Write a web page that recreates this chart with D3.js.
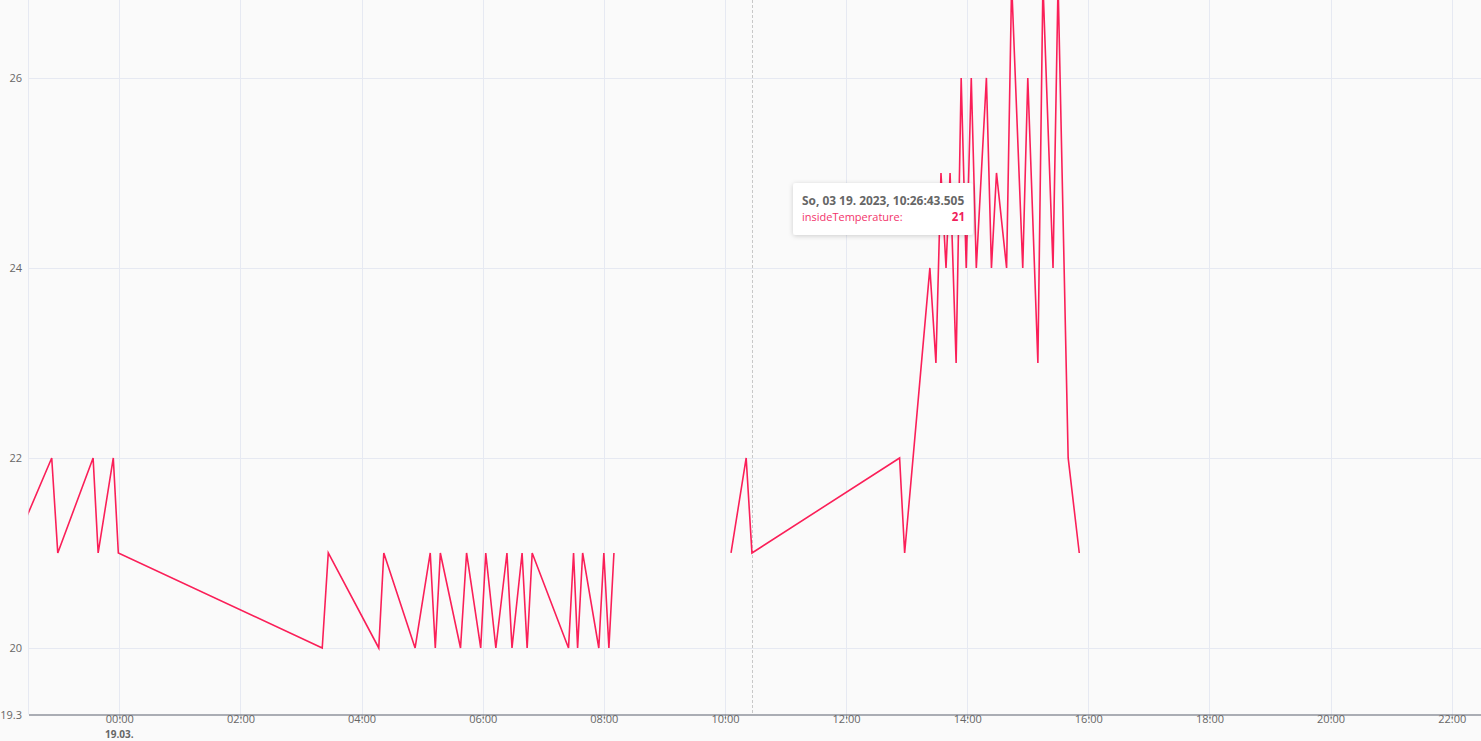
<!DOCTYPE html>
<html><head><meta charset="utf-8">
<script src="https://cdn.jsdelivr.net/npm/d3@7"></script>
<style>
html,body{margin:0;padding:0;background:#fafafa;}
svg{display:block;font-family:"Open Sans","Noto Sans",sans-serif;}
</style></head>
<body>
<svg id="chart" width="1481" height="741"></svg>
<script>
// ---- data ----
const seriesName = "insideTemperature";
const times = [
 "2023-03-18T22:13","2023-03-18T22:53","2023-03-18T22:59","2023-03-18T23:34","2023-03-18T23:39","2023-03-18T23:54","2023-03-18T23:59",
 "2023-03-19T03:21","2023-03-19T03:27","2023-03-19T04:17","2023-03-19T04:22","2023-03-19T04:53","2023-03-19T05:08","2023-03-19T05:13",
 "2023-03-19T05:18","2023-03-19T05:38","2023-03-19T05:44","2023-03-19T05:58","2023-03-19T06:03","2023-03-19T06:13","2023-03-19T06:24",
 "2023-03-19T06:29","2023-03-19T06:39","2023-03-19T06:44","2023-03-19T06:49","2023-03-19T07:25","2023-03-19T07:30","2023-03-19T07:34",
 "2023-03-19T07:39","2023-03-19T07:55","2023-03-19T08:00","2023-03-19T08:05","2023-03-19T08:10",
 "2023-03-19T09:00",
 "2023-03-19T10:06","2023-03-19T10:21","2023-03-19T10:26:43.505","2023-03-19T12:53","2023-03-19T12:58","2023-03-19T13:23","2023-03-19T13:29",
 "2023-03-19T13:34","2023-03-19T13:39","2023-03-19T13:43","2023-03-19T13:49","2023-03-19T13:54","2023-03-19T13:59","2023-03-19T14:04",
 "2023-03-19T14:09","2023-03-19T14:19","2023-03-19T14:24","2023-03-19T14:29","2023-03-19T14:39","2023-03-19T14:44","2023-03-19T14:55",
 "2023-03-19T15:00","2023-03-19T15:10","2023-03-19T15:15","2023-03-19T15:25","2023-03-19T15:30","2023-03-19T15:40","2023-03-19T15:51"
];
const values = [
 21,22,21,22,21,22,21,
 20,21,20,21,20,21,20,
 21,20,21,20,21,20,21,
 20,21,20,21,20,21,20,
 21,20,21,20,21,
 null,
 21,22,21,22,21,24,23,
 25,24,25,23,26,24,26,
 24,26,24,25,24,27,24,
 26,23,27,24,27,22,21
];
const yTicks = [20,22,24,26];
const yMinLabel = "19.3";
const xDomain = ["2023-03-18T22:30","2023-03-19T22:29"];
const yDomain = [19.3, 26.82];
const tooltipIndex = 36;
const tooltipDate = "So, 03 19. 2023, 10:26:43.505";

// ---- layout ----
const W = 1481, H = 741;
const m = {left: 28.5, right: 0, top: 0, bottom: 26.5};
const parse = d3.isoParse;
const data = times.map((t,i)=>({t: parse(t), v: values[i]}));

const x = d3.scaleTime().domain(xDomain.map(parse)).range([m.left, W - m.right]);
const y = d3.scaleLinear().domain(yDomain).range([H - m.bottom, m.top]);

const svg = d3.select("#chart");
svg.append("rect").attr("width",W).attr("height",H).attr("fill","#fafafa");

const defs = svg.append("defs");
defs.append("clipPath").attr("id","clip").append("rect")
  .attr("x",m.left).attr("y",m.top).attr("width",W-m.left-m.right).attr("height",H-m.bottom-m.top);
const shadow = defs.append("filter").attr("id","shadow").attr("x","-20%").attr("y","-30%").attr("width","140%").attr("height","160%");
shadow.append("feDropShadow").attr("dx",0).attr("dy",1).attr("stdDeviation",2.5).attr("flood-color","#000").attr("flood-opacity",0.18);

// grid
const xTickVals = d3.timeHour.every(2).range(parse("2023-03-19T00:00"), parse("2023-03-19T23:00"));
const grid = svg.append("g");
grid.selectAll(".vg").data(xTickVals).join("line")
  .attr("x1",d=>Math.round(x(d))+0.5).attr("x2",d=>Math.round(x(d))+0.5)
  .attr("y1",m.top).attr("y2",H-m.bottom).attr("stroke","#e6e9f2").attr("stroke-width",1);
grid.append("line").attr("x1",m.left).attr("x2",m.left).attr("y1",m.top).attr("y2",H-m.bottom)
  .attr("stroke","#e6e9f2");
grid.selectAll(".hg").data(yTicks).join("line")
  .attr("x1",m.left).attr("x2",W-m.right)
  .attr("y1",d=>Math.round(y(d))+0.5).attr("y2",d=>Math.round(y(d))+0.5)
  .attr("stroke","#e6e9f2").attr("stroke-width",1);

// y labels
const yl = svg.append("g").attr("font-size",11).attr("fill","#666");
yl.selectAll("text").data(yTicks).join("text")
  .attr("x",22).attr("y",d=>y(d)+4).attr("text-anchor","end").text(d=>d);
yl.append("text").attr("x",22).attr("y",y(yDomain[0])+4).attr("text-anchor","end").text(yMinLabel);

// x axis
const xAxis = d3.axisBottom(x).tickValues(xTickVals).tickFormat(d3.timeFormat("%H:%M")).tickSize(5).tickSizeOuter(0);
const xg = svg.append("g").attr("transform",`translate(0,${H-m.bottom})`).call(xAxis);
xg.select(".domain").attr("stroke","#8f939c").attr("stroke-width",1.3);
xg.selectAll(".tick line").attr("stroke","#8f939c");
xg.selectAll(".tick text").attr("fill","#666").attr("font-size",11).attr("font-family","'Open Sans','Noto Sans',sans-serif").attr("dy","0.35em").attr("y",4.5);
svg.append("text").attr("x",x(parse("2023-03-19T00:00"))).attr("y",H-3.5).attr("text-anchor","middle")
  .attr("font-size",10).attr("font-weight","bold").attr("fill","#666").text("19.03.");

// crosshair
const tp = data[tooltipIndex];
svg.append("line").attr("x1",Math.round(x(tp.t))+0.5).attr("x2",Math.round(x(tp.t))+0.5)
  .attr("y1",m.top).attr("y2",H-m.bottom).attr("stroke","#c8c8c8").attr("stroke-dasharray","3,2");

// series line
const line = d3.line().defined(d=>d.v!==null).x(d=>x(d.t)).y(d=>y(d.v));
svg.append("path").datum(data).attr("clip-path","url(#clip)")
  .attr("d",line).attr("fill","none").attr("stroke","#fa1f58").attr("stroke-width",1.6)
  .attr("stroke-linejoin","miter");

// tooltip
const tt = svg.append("g").attr("transform","translate(793,183)");
tt.append("rect").attr("width",180).attr("height",52).attr("rx",3).attr("fill","#fff").attr("filter","url(#shadow)");
tt.append("text").attr("x",9).attr("y",21.5).attr("font-size",11.9).attr("font-weight","bold").attr("fill","#666").text(tooltipDate);
tt.append("text").attr("x",9).attr("y",38).attr("font-size",11).attr("fill","#f2346b").text(seriesName + ":");
tt.append("text").attr("x",172).attr("y",38).attr("text-anchor","end").attr("font-size",11.5).attr("font-weight","bold").attr("fill","#f0205a").text(tp.v);
</script>
</body></html>
